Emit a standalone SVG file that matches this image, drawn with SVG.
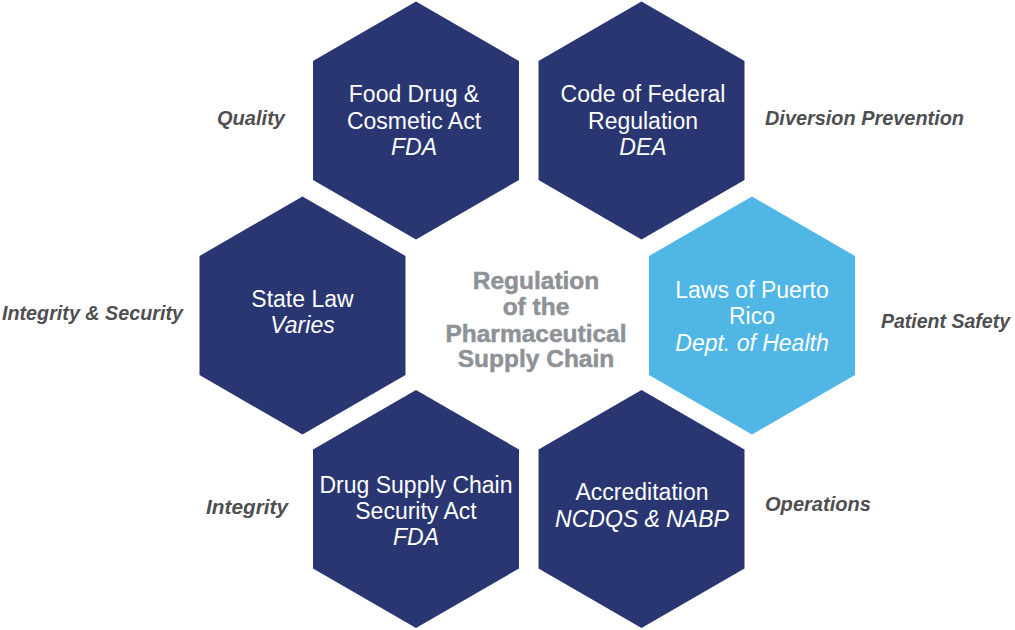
<svg xmlns="http://www.w3.org/2000/svg" xmlns:xlink="http://www.w3.org/1999/xlink" width="1015" height="630" viewBox="0 0 1015 630">
<defs>
<path id="hex" d="M0,-119 L103,-59.5 L103,59.5 L0,119 L-103,59.5 L-103,-59.5 Z"/>
<style>
.navy{fill:#2a3671}
.light{fill:#4fb6e5}
.ht{font-family:"Liberation Sans",Arial,sans-serif;font-size:23px;fill:#ffffff;text-anchor:middle}
.it{font-style:italic}
.ct{font-family:"Liberation Sans",Arial,sans-serif;font-size:24.5px;font-weight:bold;fill:#8e9196;stroke:#8e9196;stroke-width:0.5;text-anchor:middle}
.lb{font-family:"Liberation Sans",Arial,sans-serif;font-size:20px;font-weight:bold;font-style:italic;fill:#4f4f52}
</style>
</defs>
<rect width="1015" height="630" fill="#ffffff"/>
<g id="connectors"></g>
<g id="node-fdca">
<use xlink:href="#hex" href="#hex" class="navy" transform="translate(416,120.5)"/>
<text class="ht" x="414" y="102">Food Drug &amp;</text>
<text class="ht" x="414" y="128.5">Cosmetic Act</text>
<text class="ht it" x="414" y="155">FDA</text>
</g>
<g id="node-cfr">
<use xlink:href="#hex" href="#hex" class="navy" transform="translate(641.5,120.5)"/>
<text class="ht" x="643" y="102">Code of Federal</text>
<text class="ht" x="643" y="128.5">Regulation</text>
<text class="ht it" x="643" y="155">DEA</text>
</g>
<g id="node-state">
<use xlink:href="#hex" href="#hex" class="navy" transform="translate(302.5,315.5)"/>
<text class="ht" x="302.5" y="307">State Law</text>
<text class="ht it" x="302.5" y="333">Varies</text>
</g>
<g id="node-pr">
<use xlink:href="#hex" href="#hex" class="light" transform="translate(752,315.5)"/>
<text class="ht" x="752" y="297.5">Laws of Puerto</text>
<text class="ht" x="752" y="324">Rico</text>
<text class="ht it" x="752" y="350.5">Dept. of Health</text>
</g>
<g id="node-dscsa">
<use xlink:href="#hex" href="#hex" class="navy" transform="translate(416,509)"/>
<text class="ht" x="416" y="492.5">Drug Supply Chain</text>
<text class="ht" x="416" y="518.5">Security Act</text>
<text class="ht it" x="416" y="545">FDA</text>
</g>
<g id="node-accred">
<use xlink:href="#hex" href="#hex" class="navy" transform="translate(641.5,509)"/>
<text class="ht" x="642" y="500">Accreditation</text>
<text class="ht it" x="642" y="526.5">NCDQS &amp; NABP</text>
</g>
<g id="node-center">
<text class="ct" x="536" y="289">Regulation</text>
<text class="ct" x="536" y="315">of the</text>
<text class="ct" x="536" y="341.5">Pharmaceutical</text>
<text class="ct" x="536" y="367">Supply Chain</text>
</g>
<g id="labels">
<text class="lb" x="217" y="125" textLength="68" lengthAdjust="spacingAndGlyphs">Quality</text>
<text class="lb" x="2" y="320" textLength="181" lengthAdjust="spacingAndGlyphs">Integrity &amp; Security</text>
<text class="lb" x="206" y="514" textLength="82" lengthAdjust="spacingAndGlyphs">Integrity</text>
<text class="lb" x="765" y="125" textLength="199" lengthAdjust="spacingAndGlyphs">Diversion Prevention</text>
<text class="lb" x="881" y="328" textLength="129" lengthAdjust="spacingAndGlyphs">Patient Safety</text>
<text class="lb" x="765" y="511" textLength="106" lengthAdjust="spacingAndGlyphs">Operations</text>
</g>
</svg>
